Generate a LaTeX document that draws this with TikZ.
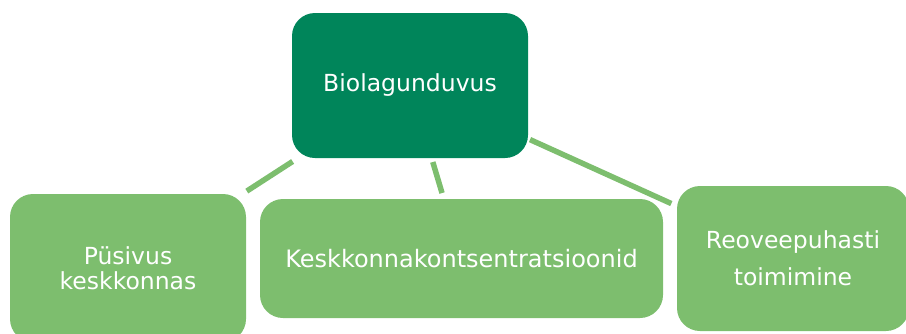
\documentclass[tikz,border=0pt]{standalone}
\usepackage{fontspec}
\setmainfont{DejaVu Sans}
\definecolor{darkleaf}{HTML}{00855A}
\definecolor{lightleaf}{HTML}{7DBE6E}
\begin{document}
\begin{tikzpicture}[x=1pt,y=-1pt,
  box/.style={draw=none, rounded corners=23pt, text=white, align=center,
    inner sep=0pt, font=\fontsize{23.5}{25}\selectfont},
  mainbox/.style={box, fill=darkleaf},
  subbox/.style={box, fill=lightleaf},
  link/.style={draw=lightleaf, line width=5.5pt}]
  \useasboundingbox (0,0) rectangle (906,333);

  % central concept
  \node[mainbox, minimum width=236pt, minimum height=145pt] (bio) at (410,85.5) {Biolagunduvus};

  % related aspects
  \node[subbox, minimum width=236pt, minimum height=148pt] (pys) at (128,268)
    {Püsivus\\keskkonnas};
  \node[subbox, minimum width=403pt, minimum height=119pt] (kesk) at (461.5,258.5)
    {\fontsize{24}{25}\selectfont Keskkonnakontsentratsioonid};
  \node[subbox, minimum width=232pt, minimum height=145pt,
        font=\fontsize{23.5}{37}\selectfont] (reo) at (793,258.5)
    {Reoveepuhasti\\toimimine};

  % connectors from the central concept
  \draw[link, shorten <=6pt, shorten >=5pt] (bio) -- (pys);
  \draw[link, shorten <=4pt, shorten >=6pt] (bio) -- (kesk);
  \draw[link, shorten <=2pt, shorten >=6pt] (bio) -- (reo);
\end{tikzpicture}
\end{document}
